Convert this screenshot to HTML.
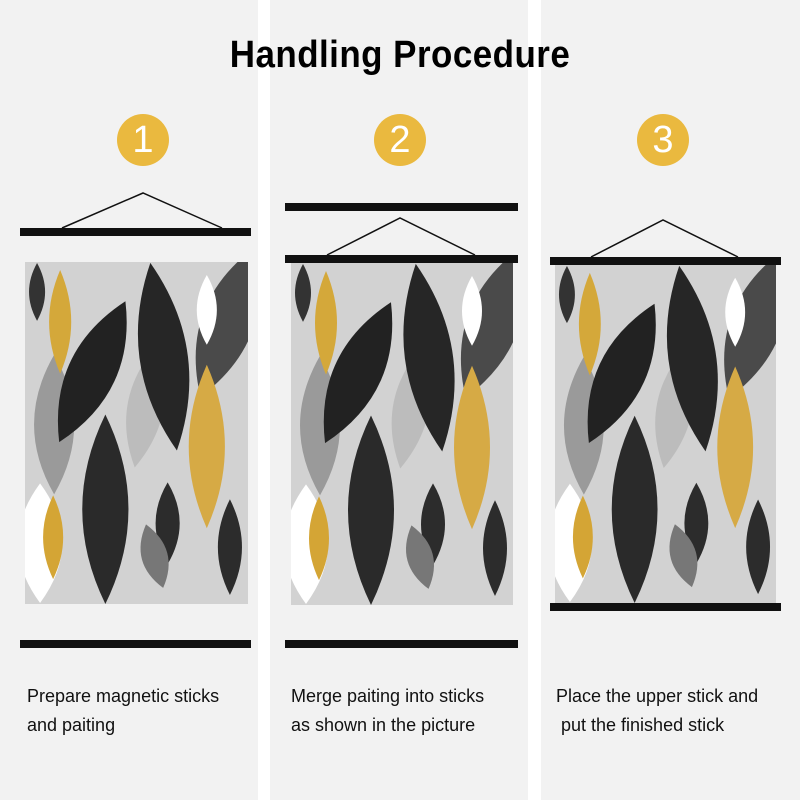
<!DOCTYPE html>
<html><head><meta charset="utf-8"><style>
body{margin:0;width:800px;height:800px;background:#fff;position:relative;overflow:hidden;font-family:"Liberation Sans",sans-serif}
.panel{position:absolute;top:0;height:800px;background:#f2f2f2}
.title{position:absolute;top:34px;left:0;width:800px;text-align:center;font-size:38px;font-weight:bold;color:#000;letter-spacing:0.5px;transform:scaleX(0.92)}
.circ{position:absolute;top:114px;width:52px;height:52px;border-radius:50%;background:#eab93f;color:#fff;font-size:38px;line-height:52px;text-align:center}
.stick{position:absolute;height:8px;background:#111}
.txt{position:absolute;top:682px;font-size:18px;line-height:29px;color:#111}
svg.p{position:absolute}
</style></head><body>
<div class="panel" style="left:0;width:258px"></div>
<div class="panel" style="left:270px;width:258px"></div>
<div class="panel" style="left:541px;width:259px"></div>
<div class="title">Handling Procedure</div>
<div class="circ" style="left:117px">1</div>
<div class="circ" style="left:374px">2</div>
<div class="circ" style="left:637px">3</div>

<svg width="0" height="0" style="position:absolute">
<defs>
<symbol id="art" viewBox="0 0 222 343" preserveAspectRatio="none">
<rect width="222" height="343" fill="#d2d2d2"/>
<g>
<path d="M0,-60 Q44,0 0,60 Q-44,0 0,-60Z" fill="#ffffff" transform="translate(15,282)"/>
<path d="M0,-70 Q40,0 0,70 Q-40,0 0,-70Z" fill="#9a9a9a" transform="translate(29,163)"/>
<path d="M0,-62 Q36,0 0,62 Q-36,0 0,-62Z" fill="#bcbcbc" transform="translate(120,145) rotate(10)"/>
<path d="M0,-80 Q52,0 0,80 Q-52,0 0,-80Z" fill="#4a4a4a" transform="translate(202,60) rotate(20)"/>
<path d="M0,-35 Q20,0 0,35 Q-20,0 0,-35Z" fill="#fff" transform="translate(181,48)"/>
<path d="M0,-29 Q16,0 0,29 Q-16,0 0,-29Z" fill="#333" transform="translate(12,30)"/>
<path d="M0,-52 Q22,0 0,52 Q-22,0 0,-52Z" fill="#d4a83a" transform="translate(35,60)"/>
<path d="M0,-78 Q48,0 0,78 Q-48,0 0,-78Z" fill="#222" transform="translate(67,110) rotate(25)"/>
<path d="M0,-95 Q48,0 0,95 Q-48,0 0,-95Z" fill="#262626" transform="translate(138,95) rotate(-8)"/>
<path d="M0,-82 Q36,0 0,82 Q-36,0 0,-82Z" fill="#d6aa45" transform="translate(181,185)"/>
<path d="M0,-95 Q46,0 0,95 Q-46,0 0,-95Z" fill="#2a2a2a" transform="translate(80,248)"/>
<path d="M0,-42 Q20,0 0,42 Q-20,0 0,-42Z" fill="#d4a535" transform="translate(28,276)"/>
<path d="M0,-41 Q24,0 0,41 Q-24,0 0,-41Z" fill="#2c2c2c" transform="translate(142,262)"/>
<path d="M0,-33 Q26,0 0,33 Q-26,0 0,-33Z" fill="#777" transform="translate(129,295) rotate(-15)"/>
<path d="M0,-48 Q24,0 0,48 Q-24,0 0,-48Z" fill="#2c2c2c" transform="translate(204,286)"/>
</g>
</symbol>
</defs></svg>

<svg class="p" style="left:0;top:0" width="260" height="260"><polyline points="62,228 143,193 222,228" fill="none" stroke="#111" stroke-width="1.5"/></svg>
<div class="stick" style="left:20px;top:228px;width:231px"></div>
<svg class="p" style="left:25px;top:262px" width="223" height="342"><use href="#art" width="223" height="342"/></svg>
<div class="stick" style="left:20px;top:640px;width:231px"></div>

<div class="stick" style="left:285px;top:203px;width:233px"></div>
<svg class="p" style="left:270px;top:0" width="260" height="270"><polyline points="57,255 130,218 205,255" fill="none" stroke="#111" stroke-width="1.5"/></svg>
<div class="stick" style="left:285px;top:255px;width:233px"></div>
<svg class="p" style="left:291px;top:263px" width="222" height="342"><use href="#art" width="222" height="342"/></svg>
<div class="stick" style="left:285px;top:640px;width:233px"></div>

<svg class="p" style="left:541px;top:0" width="260" height="270"><polyline points="50,257 122,220 197,257" fill="none" stroke="#111" stroke-width="1.5"/></svg>
<div class="stick" style="left:550px;top:257px;width:231px"></div>
<svg class="p" style="left:555px;top:265px" width="221" height="338"><use href="#art" width="221" height="338"/></svg>
<div class="stick" style="left:550px;top:603px;width:231px"></div>

<div class="txt" style="left:27px">Prepare magnetic sticks<br>and paiting</div>
<div class="txt" style="left:291px">Merge paiting into sticks<br>as shown in the picture</div>
<div class="txt" style="left:556px">Place the upper stick and<br>&nbsp;put the finished stick</div>
</body></html>
